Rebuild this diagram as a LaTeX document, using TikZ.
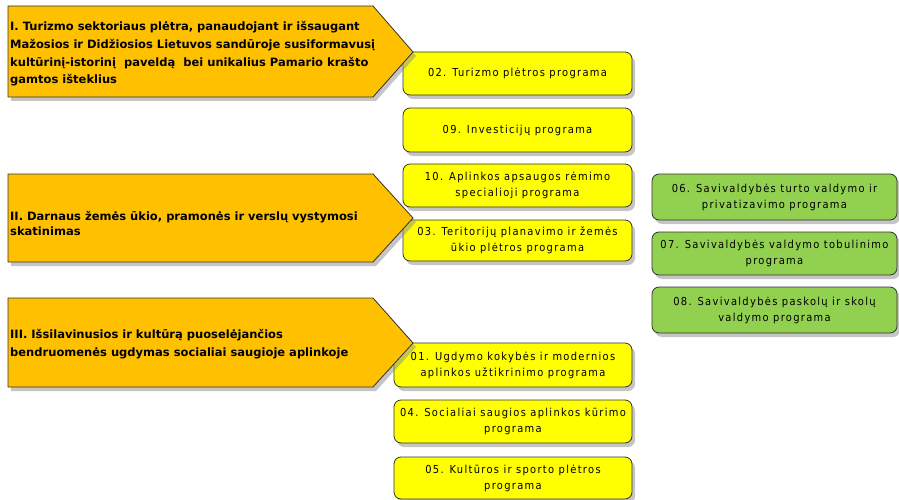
\documentclass[tikz,border=0pt]{standalone}
\usepackage{fontspec}
\setmainfont{DejaVu Sans}
\newfontfamily\progfont[LetterSpace=12]{DejaVu Sans Condensed}
\usetikzlibrary{shadows}
\definecolor{goalorange}{HTML}{FFC000}
\definecolor{progyellow}{HTML}{FFFF00}
\definecolor{admingreen}{HTML}{92D050}
\tikzset{
  myshadow/.style={drop shadow={shadow xshift=3pt,shadow yshift=-4pt,fill=black!45,opacity=.5}},
  goal/.style={draw=black!80,fill=goalorange,line width=0.8pt,line join=miter,myshadow},
  goaltext/.style={anchor=west,align=left,inner sep=0pt,font=\bfseries\fontsize{11.5}{17.7}\selectfont},
  prog/.style={draw=black!80,fill=progyellow,rounded corners=7pt,line width=0.8pt,
    minimum width=229pt,minimum height=43pt,inner sep=0pt,align=center,
    font=\progfont\fontsize{11}{16}\selectfont,myshadow},
  admin/.style={prog,fill=admingreen,minimum width=245pt}
}
\begin{document}
\begin{tikzpicture}[x=1pt,y=-1pt]
  \useasboundingbox (0,0) rectangle (899,500);
  % programos
  \node[prog] (p02) at (517.5,73.5) {02. Turizmo plėtros programa};
  \node[prog,minimum height=44pt] (p09) at (517.5,130) {09. Investicijų programa};
  \node[prog] (p10) at (517.5,185.5) {10. Aplinkos apsaugos rėmimo\\specialioji programa};
  \node[prog,minimum height=41pt] (p03) at (517.5,240.5) {03. Teritorijų planavimo ir žemės\\ūkio plėtros programa};
  \node[prog,minimum width=238pt,minimum height=44pt] (p01) at (513,365) {01. Ugdymo kokybės ir modernios\\aplinkos užtikrinimo programa};
  \node[prog,minimum width=238pt] (p04) at (513,421.5) {04. Socialiai saugios aplinkos kūrimo\\programa};
  \node[prog,minimum width=238pt,minimum height=42pt] (p05) at (513,478) {05. Kultūros ir sporto plėtros\\programa};
  \node[admin,minimum height=46pt] (p06) at (774.5,197) {06. Savivaldybės turto valdymo ir\\privatizavimo programa};
  \node[admin] (p07) at (774.5,253.5) {07. Savivaldybės valdymo tobulinimo\\programa};
  \node[admin,minimum height=46pt] (p08) at (774.5,310) {08. Savivaldybės paskolų ir skolų\\valdymo programa};
  % prioritetai
  \draw[goal] (8,6) -- (373,6) -- (413,52) -- (373,97) -- (8,97) -- cycle;
  \draw[goal] (8,174) -- (373,174) -- (413,218) -- (373,262) -- (8,262) -- cycle;
  \draw[goal] (8,298) -- (373,298) -- (413,343) -- (373,387) -- (8,387) -- cycle;
  \node[goaltext] (g1) at (10,54) {I. Turizmo sektoriaus plėtra, panaudojant ir išsaugant\\
    Mažosios ir Didžiosios Lietuvos sandūroje susiformavusį\\
    kultūrinį-istorinį\ \ paveldą\ \ bei unikalius Pamario krašto\\
    gamtos išteklius};
  \node[goaltext,font=\bfseries\fontsize{11.5}{15}\selectfont] (g2) at (10,223) {II. Darnaus žemės ūkio, pramonės ir verslų vystymosi\\skatinimas};
  \node[goaltext] (g3) at (10,344) {III. Išsilavinusios ir kultūrą puoselėjančios\\bendruomenės ugdymas socialiai saugioje aplinkoje};
\end{tikzpicture}
\end{document}
